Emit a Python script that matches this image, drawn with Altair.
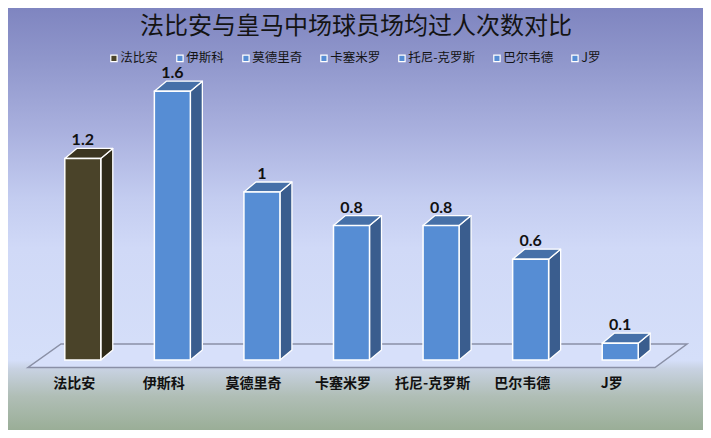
import json
import altair as alt
import pandas as pd

# ---- data ----
names = ["法比安", "伊斯科", "莫德里奇", "卡塞米罗", "托尼-克罗斯", "巴尔韦德", "J罗"]
values = [1.2, 1.6, 1.0, 0.8, 0.8, 0.6, 0.1]
front_colors = ["#4a4329", "#568dd4", "#568dd4", "#568dd4", "#568dd4", "#568dd4", "#568dd4"]
side_colors = ["#2e2a19", "#3a5d8e", "#3a5d8e", "#3a5d8e", "#3a5d8e", "#3a5d8e", "#3a5d8e"]
top_colors = ["#3b3521", "#4670a8", "#4670a8", "#4670a8", "#4670a8", "#4670a8", "#4670a8"]
title_text = "法比安与皇马中场球员场均过人次数对比"

# ---- layout (pixels) ----
W, H = 627, 292
PAD = {"left": 30, "top": 60, "right": 38, "bottom": 70}
PX_X = W / 7.0
PX_Y = 168.0
HW = 18 / PX_X      # half width of bar front
DX = 12 / PX_X      # depth offset x
DY = 10 / PX_Y      # depth offset y

xs = alt.Scale(domain=[-0.5, 6.5], nice=False, zero=False)
ys = alt.Scale(domain=[0, H / PX_Y], nice=False, zero=False)

label_expr = json.dumps(names, ensure_ascii=False) + "[datum.value]"
x_axis = alt.Axis(
    values=list(range(len(names))), labelExpr=label_expr, title=None,
    ticks=False, tickSize=0, domain=False, grid=False,
    labelFont="Noto Sans CJK SC", labelFontSize=14, labelFontWeight="bold",
    labelColor="#111111", labelPadding=23, labelBaseline="middle",
    labelOffset=-9, labelFlush=False, labelOverlap=False, zindex=1,
)

front_rows, side_rows, top_rows, label_rows = [], [], [], []
for i, (n, v) in enumerate(zip(names, values)):
    front_rows.append({"name": n, "x": i - HW, "x2": i + HW, "y": 0.0, "y2": v})
    side_rows += [
        {"bar": n, "c": side_colors[i], "x": i + HW, "lo": 0.0, "hi": v},
        {"bar": n, "c": side_colors[i], "x": i + HW + DX, "lo": DY, "hi": v + DY},
    ]
    top_rows += [
        {"bar": n, "c": top_colors[i], "x": i - HW, "lo": v, "hi": v},
        {"bar": n, "c": top_colors[i], "x": i - HW + DX, "lo": v, "hi": v + DY},
        {"bar": n, "c": top_colors[i], "x": i + HW, "lo": v, "hi": v + DY},
        {"bar": n, "c": top_colors[i], "x": i + HW + DX, "lo": v + DY, "hi": v + DY},
    ]
    label_rows.append({"x": float(i), "y": v + DY, "t": f"{v:g}"})

front_df = pd.DataFrame(front_rows)
side_df = pd.DataFrame(side_rows)
top_df = pd.DataFrame(top_rows)
label_df = pd.DataFrame(label_rows)

# floor plane (perspective floor under the bars)
def ux(px):
    return (px - 38) / PX_X - 0.5

def uy(py):
    return (360 - py) / PX_Y

f_lo, f_hi = uy(367.5), uy(344)
floor_df = pd.DataFrame([
    {"x": ux(28), "lo": f_lo, "hi": f_lo},
    {"x": ux(61), "lo": f_lo, "hi": f_hi},
    {"x": ux(655), "lo": f_lo, "hi": f_hi},
    {"x": ux(687), "lo": f_hi, "hi": f_hi},
])

# background gradient covering the whole chart
bg = alt.Chart(pd.DataFrame({"k": [0]})).mark_rect(
    fill=alt.LinearGradient(
        gradient="linear", x1=0, x2=0, y1=0, y2=1,
        stops=[
            alt.GradientStop(color="#7f85c0", offset=0),
            alt.GradientStop(color="#8f96cb", offset=0.12),
            alt.GradientStop(color="#a9b0de", offset=0.29),
            alt.GradientStop(color="#c3ccf0", offset=0.45),
            alt.GradientStop(color="#d0d9f7", offset=0.57),
            alt.GradientStop(color="#d5dff9", offset=0.835),
            alt.GradientStop(color="#c8d2e2", offset=0.855),
            alt.GradientStop(color="#b0beb6", offset=0.92),
            alt.GradientStop(color="#9aae97", offset=1.0),
        ],
    )
).encode(
    x=alt.value(-PAD["left"]), x2=alt.value(W + PAD["right"]),
    y=alt.value(-PAD["top"]), y2=alt.value(H + PAD["bottom"]),
)

floor = alt.Chart(floor_df).mark_area(
    orient="vertical", fill="#d7e0fa", stroke="#8a90a6", strokeWidth=1.5
).encode(
    x=alt.X("x:Q", scale=xs, axis=x_axis),
    y=alt.Y("lo:Q", scale=ys, axis=None, stack=False),
    y2="hi:Q",
)

side = alt.Chart(side_df).mark_area(
    orient="vertical", stroke="white", strokeWidth=1.3, strokeJoin="round"
).encode(
    x=alt.X("x:Q", scale=xs, axis=x_axis),
    y=alt.Y("lo:Q", scale=ys, axis=None, stack=False),
    y2="hi:Q",
    detail="bar:N",
    fill=alt.Fill("c:N", scale=None),
)

top = alt.Chart(top_df).mark_area(
    orient="vertical", stroke="white", strokeWidth=1.3, strokeJoin="round"
).encode(
    x=alt.X("x:Q", scale=xs, axis=x_axis),
    y=alt.Y("lo:Q", scale=ys, axis=None, stack=False),
    y2="hi:Q",
    detail="bar:N",
    fill=alt.Fill("c:N", scale=None),
)

front = alt.Chart(front_df).mark_rect(stroke="white", strokeWidth=1.5).encode(
    x=alt.X("x:Q", scale=xs, axis=x_axis),
    x2="x2:Q",
    y=alt.Y("y:Q", scale=ys, axis=None),
    y2="y2:Q",
    color=alt.Color(
        "name:N",
        scale=alt.Scale(domain=names, range=front_colors),
        legend=alt.Legend(
            orient="none", legendX=69.7, legendY=-16, direction="horizontal",
            columns=len(names), columnPadding=15, title=None,
            symbolType="square", symbolSize=40, symbolStrokeColor="white",
            symbolStrokeWidth=1.2, labelFont="Noto Sans CJK SC", labelFontSize=12.5,
            labelColor="#141414", labelOffset=0, padding=0, labelLimit=200,
        ),
    ),
)

labels = alt.Chart(label_df).mark_text(
    font="Lato", fontSize=16, fontWeight="bold", color="#111111",
    baseline="alphabetic", dy=-3,
).encode(
    x=alt.X("x:Q", scale=xs, axis=x_axis),
    y=alt.Y("y:Q", scale=ys, axis=None),
    text="t:N",
)

chart = alt.layer(bg, floor, side, top, front, labels).properties(
    width=W, height=H, padding=PAD,
    autosize=alt.AutoSizeParams(type="none"),
    background="#d4ddf8",
    title=alt.TitleParams(
        text=title_text, font="Noto Sans CJK SC", fontSize=24, fontWeight="normal",
        color="#141414", anchor="middle", offset=-43, baseline="middle", dx=4.5,
    ),
).configure_view(strokeWidth=0)

chart.save("out.html", embed_options={"renderer": "svg", "actions": False})
